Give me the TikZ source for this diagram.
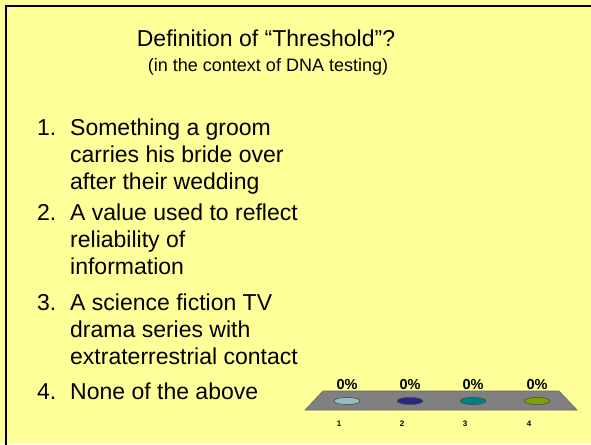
\documentclass[tikz,border=0pt]{standalone}
\usepackage{fontspec}
\setmainfont{Liberation Sans}
\usetikzlibrary{positioning}

\definecolor{slideyellow}{RGB}{255,255,153}
\definecolor{basegray}{RGB}{128,128,128}
\definecolor{optA}{RGB}{153,187,196}
\definecolor{optB}{RGB}{40,40,130}
\definecolor{optC}{RGB}{0,128,128}
\definecolor{optD}{RGB}{128,160,0}

\begin{document}
\begin{tikzpicture}[
  x=1pt, y=-1pt,
  ttl/.style={font=\fontsize{23}{27}\selectfont, anchor=base, inner sep=0pt},
  subttl/.style={font=\fontsize{18}{21}\selectfont, anchor=base, inner sep=0pt},
  num/.style={font=\fontsize{23}{27}\selectfont, anchor=base west, inner sep=0pt},
  answer/.style={font=\fontsize{23}{27}\selectfont, anchor=base west,
                 align=left, inner sep=0pt},
  pct/.style={font=\bfseries\fontsize{14.5}{16}\selectfont, anchor=base, inner sep=0pt},
  idx/.style={font=\bfseries\fontsize{8}{10}\selectfont, anchor=base, inner sep=0pt},
  dot/.style={draw=black!70, line width=0.6pt}
]
% slide background and frame
\fill[slideyellow] (0,0) rectangle (591,444);
\useasboundingbox (0,0) rectangle (591,444);
\draw[line width=2.5pt, line join=miter] (6,446) -- (6,6) -- (593,6);

% heading
\node[ttl]    (title) at (266,47) {Definition of “Threshold”?};
\node[subttl] (scope) at (268,71) {(in the context of DNA testing)};

% answers (base of a multi-line node = its last line)
\node[num]    (n1) at (37,135) {1.};
\node[answer] (a1) at (70,189) {Something a groom\\carries his bride over\\after their wedding};
\node[num]    (n2) at (37,220) {2.};
\node[answer] (a2) at (70,274) {A value used to reflect\\reliability of\\information};
\node[num]    (n3) at (37,310) {3.};
\node[answer] (a3) at (70,364) {A science fiction TV\\drama series with\\extraterrestrial contact};
\node[num]    (n4) at (37,399) {4.};
\node[answer] (a4) at (70,399) {None of the above};

% voting chart
\draw[fill=basegray, draw=black!60, line width=0.6pt]
  (323,391) -- (559,391) -- (577,410) -- (305,410) -- cycle;
\foreach \x/\c/\k in {347/optA/1, 410/optB/2, 473/optC/3, 537/optD/4} {
  \draw[dot, fill=\c] (\x,401) ellipse [x radius=13, y radius=3.6];
  \node[pct] (p\k) at (\x,389) {0\%};
  \node[idx] (i\k) at (\x-8,426) {\k};
}
\end{tikzpicture}
\end{document}
